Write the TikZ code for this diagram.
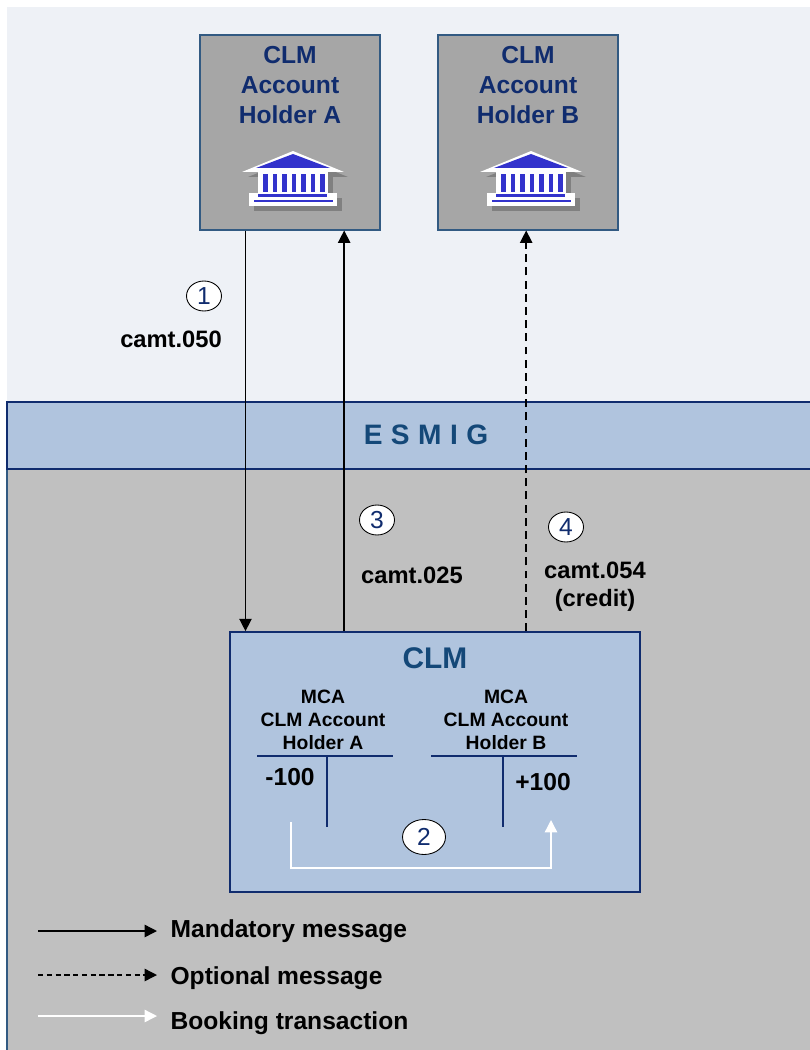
\documentclass[tikz,border=0pt]{standalone}
\usepackage{fontspec}
\setmainfont{Liberation Sans}
\usepackage{xcolor}
\usepackage{tikz}
\usetikzlibrary{arrows.meta}
\usetikzlibrary{shapes.geometric}
\usetikzlibrary{positioning}

\definecolor{topbg}{RGB}{238,241,246}
\definecolor{grayzone}{RGB}{192,192,192}
\definecolor{esmigblue}{RGB}{176,196,222}
\definecolor{navy}{RGB}{16,44,110}
\definecolor{clmtitle}{RGB}{20,72,120}
\definecolor{holderfill}{RGB}{166,166,166}
\definecolor{holderline}{RGB}{50,90,130}
\definecolor{bankblue}{RGB}{51,51,204}
\definecolor{bankshade}{RGB}{128,128,128}

\begin{document}
\begin{tikzpicture}[x=0.02cm, y=-0.02cm, font=\bfseries,
  holder/.style={rectangle, draw=holderline, line width=0.6pt, fill=holderfill, minimum width=3.6cm, minimum height=3.9cm, inner sep=0pt},
  holdertxt/.style={align=center, text=navy, font=\fontsize{14}{17}\selectfont\bfseries},
  msg/.style={draw=black, line width=0.8pt, -{Triangle[length=7pt, width=7pt]}},
  optmsg/.style={msg, dash pattern=on 4.5pt off 3pt},
  book/.style={draw=white, line width=0.8pt, -{Triangle[length=7pt, width=7pt]}},
  num/.style={ellipse, draw=black, line width=0.5pt, fill=white, text=navy, font=\fontsize{14}{16}\selectfont, minimum width=0.7cm, minimum height=0.6cm, inner sep=0pt},
  lbl/.style={align=center, font=\fontsize{13.5}{16}\selectfont\bfseries},
  mca/.style={align=center, font=\fontsize{11}{13}\selectfont\bfseries},
  legend/.style={anchor=west, font=\fontsize{14}{16}\selectfont\bfseries},
  bank/.pic={
    \fill[bankshade] (-45,-3) -- (5,-23) -- (55,-3) -- cycle;
    \fill[bankshade] (-30,-3) rectangle (40,18);
    \fill[bankshade] (-39,18) rectangle (49,31);
    \fill[white] (-51,-8) -- (0,-29) -- (51,-8) -- cycle;
    \fill[bankblue] (-37,-12) -- (0,-26) -- (37,-12) -- cycle;
    \fill[white] (-35,-8) rectangle (35,13);
    \foreach \i in {0,...,6}
      \fill[bankblue] (-30+\i*9.5,-6) rectangle (-25.5+\i*9.5,12);
    \fill[white] (-44,13) rectangle (44,26);
    \draw[bankblue, line width=1.3pt] (-35,15.5) -- (34,15.5);
    \draw[bankblue, line width=1.3pt] (-39,21) -- (40,21);
  }]
  \useasboundingbox (0,0) rectangle (810,1050);

  % zones
  \fill[topbg] (7,7) rectangle (810,402);
  \fill[grayzone] (7,469) rectangle (810,1050);
  \draw[holderline, line width=1pt] (7,469) -- (7,1050);
  \fill[esmigblue] (7,402) rectangle (810,469);
  \draw[navy, line width=1pt] (810,402) -- (7,402) -- (7,469) -- (810,469);
  \node[text=clmtitle, font=\fontsize{16}{18}\selectfont\bfseries\addfontfeature{LetterSpace=30}] (esmig) at (426,435) {ESMIG};

  % participants
  \node[holder] (holderA) at (290,132.5) {};
  \node[holder] (holderB) at (528,132.5) {};
  \node[holdertxt] (txtA) at (290,85) {CLM\\Account\\Holder A};
  \node[holdertxt] (txtB) at (528,85) {CLM\\Account\\Holder B};
  \pic at (293,180) {bank};
  \pic at (531,180) {bank};

  % CLM
  \node[rectangle, draw=navy, line width=1pt, fill=esmigblue, minimum width=8.2cm, minimum height=5.2cm] (clm) at (435,762) {};
  \node[text=clmtitle, font=\fontsize{17}{19}\selectfont\bfseries] (clmtxt) at (435,658) {CLM};
  \node[mca] (mcaA) at (323,720) {MCA\\CLM Account\\Holder A};
  \node[mca] (mcaB) at (506,720) {MCA\\CLM Account\\Holder B};
  \draw[navy, line width=0.8pt] (257,756) -- (393,756) (327,756) -- (327,827);
  \draw[navy, line width=0.8pt] (431,756) -- (577,756) (503,756) -- (503,827);
  \node[lbl, font=\fontsize{14}{16}\selectfont\bfseries] (debit) at (290,777) {-100};
  \node[lbl, font=\fontsize{14}{16}\selectfont\bfseries] (credit) at (543,782) {+100};

  % messages
  \draw[msg] (holderA.south west) ++(46,0) coordinate (p1) -- (p1 |- clm.north);
  \draw[msg] (clm.north west) ++(115,0) coordinate (p3) -- (p3 |- holderA.south);
  \draw[optmsg] (clm.north west) ++(297,0) coordinate (p4) -- (p4 |- holderB.south);

  \node[num] (n1) at (204,296) {1};
  \node[lbl, anchor=east] (m1) at (228,339) {camt.050};
  \node[num] (n3) at (377,520) {3};
  \node[lbl, anchor=west] (m3) at (355,575) {camt.025};
  \node[num] (n4) at (566,527) {4};
  \node[lbl] (m4) at (595,587) {camt.054\\(credit)};

  % booking
  \coordinate (bookA) at (291,822);
  \coordinate (bookB) at (551,820);
  \draw[book] (bookA) -- (bookA |- 0,868) -- (bookB |- 0,868) -- (bookB);
  \node[num, minimum width=0.86cm, minimum height=0.7cm] (n2) at (424,837) {2};

  % legend
  \coordinate (l1) at (38,931);
  \coordinate (l2) at (38,975);
  \coordinate (l3) at (38,1016);
  \draw[msg] (l1) -- ++(119,0) node[legend, black, xshift=4pt] {Mandatory message};
  \draw[msg, dash pattern=on 3pt off 2pt] (l2) -- ++(119,0) node[legend, black, xshift=4pt, yshift=-2pt] {Optional message};
  \draw[book] (l3) -- ++(119,0) node[legend, black, xshift=4pt, yshift=-4pt] {Booking transaction};
\end{tikzpicture}
\end{document}
